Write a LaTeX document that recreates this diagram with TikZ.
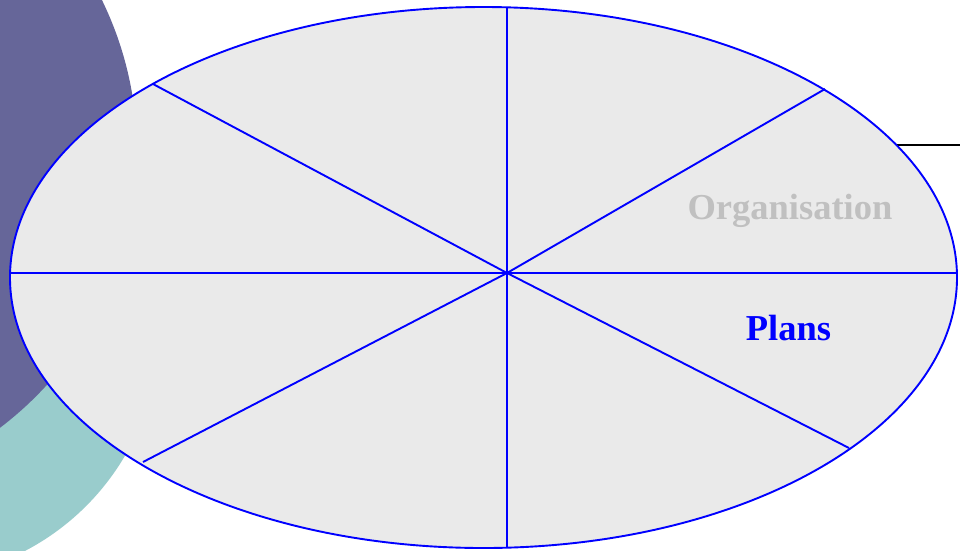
\documentclass[tikz,border=0pt]{standalone}
\usepackage{fontspec}
\setmainfont{Liberation Serif}
\definecolor{purplebg}{HTML}{666699}
\definecolor{tealbg}{HTML}{99CCCC}
\definecolor{ellfill}{HTML}{EAEAEA}
\definecolor{labgray}{HTML}{C0C0C0}
\tikzset{
  spoke/.style={draw=blue, line width=1.9pt},
  rim/.style={draw=blue, fill=ellfill, line width=1.9pt},
  label/.style={font=\bfseries\fontsize{36.5}{40}\selectfont, inner sep=0pt}
}
\begin{document}
\begin{tikzpicture}[x=1pt,y=-1pt]
\useasboundingbox (0,0) rectangle (960,550);
\clip (0,0) rectangle (960,550);
\fill[white] (0,0) rectangle (960,550);
% decorative circles
\fill[tealbg] (-90,330) circle[radius=249pt];
\fill[purplebg] (-209,152) circle[radius=346pt];
% black rule behind the ellipse
\coordinate (ruleA) at (880,145);
\coordinate (ruleB) at (960,145);
\draw[black, line width=2.6pt] (ruleA) -- (ruleB);
% ellipse
\path[rim] (483.5,277.5) ellipse[x radius=473.5pt, y radius=270.5pt];
% spokes
\coordinate (c) at (507,273);
\coordinate (top) at (507,7.3);
\coordinate (bot) at (507,547.7);
\coordinate (lft) at (10.1,273);
\coordinate (rgt) at (956.9,273);
\coordinate (tl) at (153,84);
\coordinate (tr) at (825,89);
\coordinate (bl) at (143,462);
\coordinate (br) at (849,448);
\foreach \p in {top,bot,lft,rgt,tl,tr,bl,br} \draw[spoke] (c) -- (\p);
% labels
\node[label, text=labgray] (org) at (790,211) {Organisation};
\node[label, text=blue] (plans) at (788.5,328) {Plans};
\end{tikzpicture}
\end{document}
